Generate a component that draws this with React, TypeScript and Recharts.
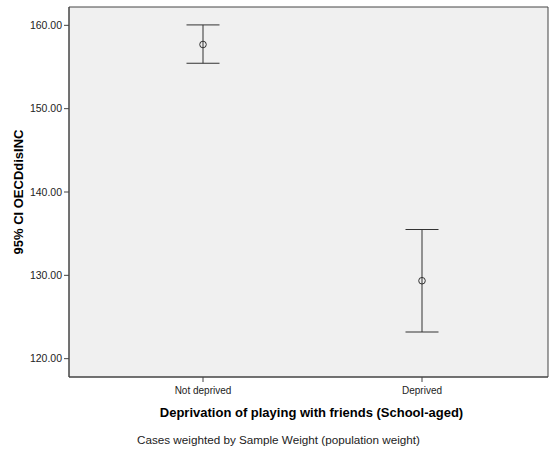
import React from 'react';
import {
  ComposedChart, Scatter, ErrorBar, XAxis, YAxis, CartesianGrid, Label,
} from 'recharts';

// 95% CI of OECDdisINC by deprivation group
const groups = ['Not deprived', 'Deprived'];
const means = [157.7, 129.35];
const lowerCI = [155.45, 123.2];
const upperCI = [160.05, 135.5];
const yTicks = [120, 130, 140, 150, 160];

const data = groups.map((name, i) => ({
  name,
  mean: means[i],
  ci: [means[i] - lowerCI[i], upperCI[i] - means[i]],
}));

const FONT = '"Liberation Sans", Arial, sans-serif';
const INK = '#444444';
const TEXT = '#222222';

const HollowDot = (props: any) => {
  const { cx, cy } = props;
  if (cx == null || cy == null) return null;
  return <circle cx={cx} cy={cy} r={3.3} fill="none" stroke="#333333" strokeWidth={1} />;
};

// frame around the plot area, taken from the chart's own offset
const frameRows = ({ offset }: any) => [offset.top, offset.top + offset.height];
const frameCols = ({ offset }: any) => [offset.left, offset.left + offset.width];

export default function App() {
  return (
    <div style={{ position: 'absolute', left: 0, top: 0, width: 550, height: 450, background: '#ffffff', fontFamily: FONT }}>
      <ComposedChart
        width={550}
        height={450}
        data={data}
        margin={{ top: 7, right: 2, bottom: 0, left: 0 }}
      >
        <CartesianGrid
          fill="#F0F0F0"
          stroke={INK}
          horizontalCoordinatesGenerator={frameRows}
          verticalCoordinatesGenerator={frameCols}
        />
        <XAxis
          dataKey="name"
          type="category"
          height={73}
          padding={{ left: 134, right: 126 }}
          axisLine={{ stroke: INK }}
          tickLine={{ stroke: INK }}
          tickSize={5}
          tickMargin={5}
          tick={{ fill: TEXT, fontSize: 10, fontFamily: FONT }}
        >
          <Label
            value="Deprivation of playing with friends (School-aged)"
            position="insideBottom"
            offset={33}
            dx={3}
            style={{ fill: '#000000', fontSize: 13, fontWeight: 'bold', fontFamily: FONT }}
          />
          <Label
            value="Cases weighted by Sample Weight (population weight)"
            position="insideBottom"
            offset={6}
            dx={-30}
            style={{ fill: TEXT, fontSize: 11.7, fontFamily: FONT }}
          />
        </XAxis>
        <YAxis
          type="number"
          domain={[117.8, 162.2]}
          ticks={yTicks}
          allowDataOverflow
          width={69}
          axisLine={{ stroke: INK }}
          tickLine={{ stroke: INK }}
          tickSize={5}
          tickFormatter={(v: number) => v.toFixed(2)}
          tick={{ fill: TEXT, fontSize: 10.5, fontFamily: FONT }}
        >
          <Label
            value="95% CI OECDdisINC"
            angle={-90}
            position="insideLeft"
            offset={18}
            style={{ textAnchor: 'middle', fill: '#000000', fontSize: 13, fontWeight: 'bold', fontFamily: FONT }}
          />
        </YAxis>
        <Scatter dataKey="mean" shape={HollowDot} isAnimationActive={false}>
          <ErrorBar dataKey="ci" direction="y" width={16.5} stroke="#333333" strokeWidth={1} isAnimationActive={false} />
        </Scatter>
      </ComposedChart>
    </div>
  );
}
